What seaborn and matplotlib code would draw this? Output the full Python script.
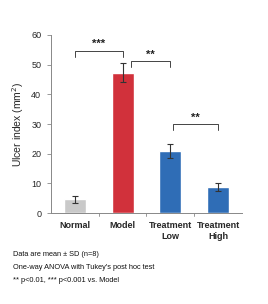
import matplotlib
matplotlib.use("Agg")
import matplotlib.pyplot as plt
import seaborn as sns
import pandas as pd

categories = ["Normal", "Model", "Treatment\nLow", "Treatment\nHigh"]
means = [4.7, 47.3, 20.8, 8.8]
sds = [1.2, 3.3, 2.4, 1.3]
colors = ["#c9c9c9", "#d1313b", "#2f6db6", "#2f6db6"]
yticks = [0, 10, 20, 30, 40, 50, 60]
# significance: (from idx, to idx, y level, label)
sig_pairs = [(0, 1, 54.7, "***"), (1, 2, 51.1, "**"), (2, 3, 30.0, "**")]
footnotes = ["Data are mean \u00b1 SD (n=8)",
             "One-way ANOVA with Tukey's post hoc test",
             "** p<0.01, *** p<0.001 vs. Model"]

sns.set_style("white")
plt.rcParams['font.family'] = ['Liberation Sans', 'DejaVu Sans']

df = pd.DataFrame({"group": categories, "value": means})
fig = plt.figure(figsize=(2.68, 3.04), dpi=100)
ax = fig.add_axes([0.19, 0.299, 0.713, 0.586])
sns.barplot(data=df, x="group", y="value", hue="group", palette=colors,
            legend=False, width=0.46, errorbar=None, ax=ax, saturation=1)
ax.errorbar(range(len(means)), means, yerr=sds, fmt="none", ecolor="#333333",
            elinewidth=0.8, capsize=2.5, capthick=0.8)

ax.set_ylim(0, 60)
ax.set_xlim(-0.5, 3.5)
ax.set_yticks(yticks)
ax.set_yticklabels([str(t) for t in yticks], fontsize=6.5)
ax.set_xticks(range(len(categories)))
ax.set_xticklabels(categories, fontsize=6.5, fontweight="bold")
ax.tick_params(axis="x", length=0, pad=6)
ax.tick_params(axis="y", length=3, width=0.6, color="#888888", pad=4, left=True)
for x in [0.5, 1.5, 2.5]:
    ax.plot([x, x], [0, -0.9], color="#888888", lw=0.6, clip_on=False)
ax.set_xlabel("")
ax.set_ylabel("Ulcer index (mm$^2$)", fontsize=7.5, labelpad=4)
for s in ["top", "right"]:
    ax.spines[s].set_visible(False)
for s in ["left", "bottom"]:
    ax.spines[s].set_color("#888888")
    ax.spines[s].set_linewidth(0.7)

offsets = {(0, 1): (0.0, 0.0), (1, 2): (0.17, 0.0), (2, 3): (0.05, 0.0)}
for a, b, y, lab in sig_pairs:
    oa, ob = offsets[(a, b)]
    xa, xb = a + oa, b + ob
    ax.plot([xa, xa, xb, xb], [y - 2, y, y, y - 2], color="#444444", lw=0.7, clip_on=False)
    ax.text((xa + xb) / 2, y + 0.5, lab, ha="center", va="bottom", fontsize=8,
            fontweight="bold", color="#222222")

for i, t in enumerate(footnotes):
    fig.text(13 / 268, 1 - (255 + 12.5 * i) / 304, t, fontsize=5.3, va="center", ha="left",
             color="#111111")

fig.savefig("out.png", dpi=100)
